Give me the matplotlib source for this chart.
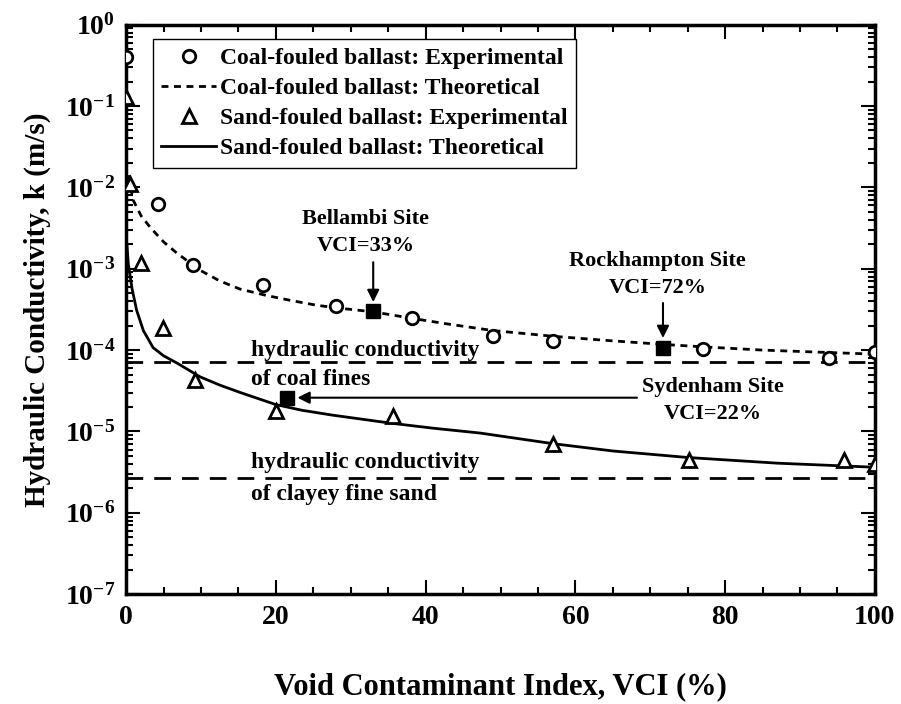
import numpy as np
import matplotlib
matplotlib.use("Agg")
import matplotlib.pyplot as plt
from matplotlib.ticker import MultipleLocator, LogLocator, FuncFormatter, NullFormatter

plt.rcParams["font.family"] = "Liberation Serif"
plt.rcParams["font.weight"] = "bold"
plt.rcParams["axes.labelweight"] = "bold"
plt.rcParams["mathtext.fontset"] = "custom"
plt.rcParams["mathtext.rm"] = "Liberation Serif:bold"
plt.rcParams["mathtext.bf"] = "Liberation Serif:bold"

# experimental points
coal_vci = [0.0, 4.3, 8.9, 18.3, 28.0, 38.2, 49.0, 57.0, 77.0, 93.9, 100.0]
coal_k = [4.0e-1, 6.3e-3, 1.1e-3, 6.3e-4, 3.5e-4, 2.45e-4, 1.5e-4, 1.29e-4, 1.02e-4, 8.1e-5, 9.4e-5]
sand_vci = [0.0, 0.5, 2.0, 4.9, 9.2, 20.0, 35.6, 57.0, 75.2, 95.9, 100.0]
sand_k = [1.3e-1, 1.1e-2, 1.17e-3, 1.86e-4, 4.3e-5, 1.8e-5, 1.55e-5, 7.1e-6, 4.5e-6, 4.5e-6, 4.0e-6]

# theoretical curves (log10 k)
coal_th_vci = [0.3, 0.9, 2.0, 3.2, 5.0, 6.8, 9.9, 12.5, 15.2, 18.8, 22.0, 25.5, 29.0, 33.0,
               38.2, 43.0, 49.0, 57.0, 64.0, 71.7, 77.0, 85.0, 93.9, 100.0]
coal_th_logk = [-1.85, -2.15, -2.35, -2.49, -2.67, -2.81, -3.02, -3.15, -3.25, -3.33, -3.39,
                -3.45, -3.49, -3.53, -3.61, -3.68, -3.76, -3.83, -3.88, -3.93, -3.96, -4.00,
                -4.03, -4.05]
sand_th_vci = [0.1, 0.3, 0.8, 1.4, 2.3, 3.6, 5.0, 6.8, 9.9, 12.5, 15.2, 20.0, 23.5, 27.6,
               35.5, 41.0, 47.3, 57.0, 65.0, 75.0, 87.0, 100.0]
sand_th_logk = [-2.7, -2.95, -3.25, -3.51, -3.76, -3.97, -4.07, -4.16, -4.33, -4.43, -4.52,
                -4.67, -4.74, -4.80, -4.90, -4.96, -5.02, -5.15, -5.24, -5.32, -5.39, -5.44]

# field sites
site_vci = [33.0, 71.7, 21.5]
site_k = [3.0e-4, 1.07e-4, 2.6e-5]

k_coal_fines = 7.1e-5
k_clayey_sand = 2.7e-6

fig = plt.figure(figsize=(9.01, 7.04), dpi=100)
ax = fig.add_axes([0.140, 0.156, 0.831, 0.809])

ax.plot(coal_vci, coal_k, "o", mfc="white", mec="black", mew=2, ms=9,
        label="Coal-fouled ballast: Experimental", zorder=4)
ax.plot(coal_th_vci, 10 ** np.array(coal_th_logk), color="black", lw=2,
        dashes=(2.5, 2.0), label="Coal-fouled ballast: Theoretical")
ax.plot(sand_vci, sand_k, "^", mfc="white", mec="black", mew=2, ms=10,
        label="Sand-fouled ballast: Experimental", zorder=4)
ax.plot(sand_th_vci, 10 ** np.array(sand_th_logk), color="black", lw=2,
        label="Sand-fouled ballast: Theoretical")

ax.axhline(k_coal_fines, color="black", lw=2, dashes=(6, 4))
ax.axhline(k_clayey_sand, color="black", lw=2, dashes=(6, 4))

ax.plot(site_vci, site_k, "s", color="black", ms=10, zorder=5)

fs = 17
afs = 16
ax.annotate("", xy=(33.0, 3.6e-4), xytext=(33.0, 1.3e-3),
            arrowprops=dict(arrowstyle="-|>", color="black", lw=1.5, mutation_scale=18))
ax.text(32.0, 1.45e-3, "Bellambi Site\nVCI=33%", ha="center", va="bottom",
        fontsize=afs, linespacing=1.45)
ax.annotate("", xy=(71.7, 1.3e-4), xytext=(71.7, 4.1e-4),
            arrowprops=dict(arrowstyle="-|>", color="black", lw=1.5, mutation_scale=18))
ax.text(71.0, 4.4e-4, "Rockhampton Site\nVCI=72%", ha="center", va="bottom",
        fontsize=afs, linespacing=1.45)
ax.annotate("", xy=(22.5, 2.6e-5), xytext=(68.6, 2.6e-5),
            arrowprops=dict(arrowstyle="-|>", color="black", lw=1.5, mutation_scale=18))
ax.text(78.4, 2.4e-5, "Sydenham Site\nVCI=22%", ha="center", va="center",
        fontsize=afs, linespacing=1.45)

ax.text(16.7, 1.0e-4, "hydraulic conductivity", ha="left", va="center", fontsize=fs)
ax.text(16.7, 4.3e-5, "of coal fines", ha="left", va="center", fontsize=fs)
ax.text(16.7, 4.1e-6, "hydraulic conductivity", ha="left", va="center", fontsize=fs)
ax.text(16.7, 1.7e-6, "of clayey fine sand", ha="left", va="center", fontsize=fs)

ax.set_yscale("log")
ax.set_xlim(0, 100)
ax.set_ylim(1e-7, 1)
ax.xaxis.set_major_locator(MultipleLocator(20))
ax.xaxis.set_minor_locator(MultipleLocator(5))
ax.yaxis.set_major_locator(LogLocator(base=10, numticks=10))
ax.yaxis.set_minor_locator(LogLocator(base=10, subs=np.arange(2, 10), numticks=20))
ax.yaxis.set_minor_formatter(NullFormatter())
ax.yaxis.set_major_formatter(FuncFormatter(lambda v, p: r"$\mathbf{10^{%d}}$" % round(np.log10(v))))

ax.tick_params(which="both", direction="in", top=True, right=True, width=1.5)
ax.tick_params(which="major", length=10, labelsize=20, pad=8)
ax.tick_params(which="minor", length=5)
for s in ax.spines.values():
    s.set_linewidth(2.5)

ax.set_xlabel("Void Contaminant Index, VCI (%)", fontsize=22, labelpad=30)
ax.set_ylabel("Hydraulic Conductivity, k (m/s)", fontsize=21, labelpad=10)

leg = ax.legend(loc="upper left", bbox_to_anchor=(0.036, 0.974), fontsize=fs,
                frameon=True, fancybox=False, edgecolor="black", framealpha=1,
                handlelength=2.3, handletextpad=0.2, labelspacing=0.36,
                borderpad=0.35, borderaxespad=0)
leg.get_frame().set_linewidth(1)

fig.savefig("out.png", dpi=100)
